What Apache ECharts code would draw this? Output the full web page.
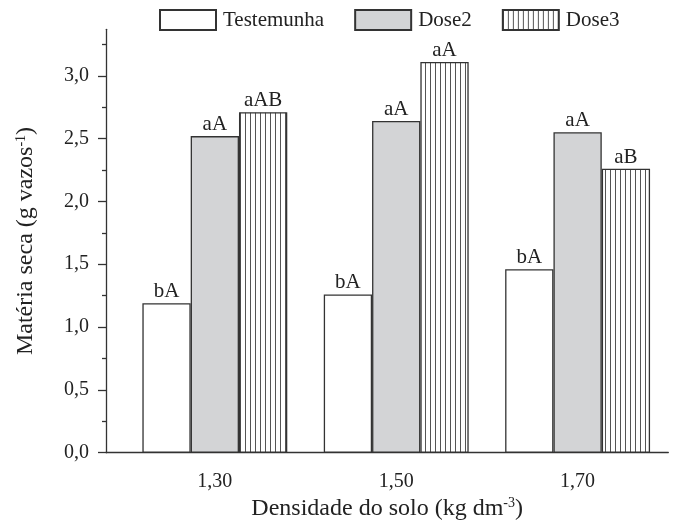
<!DOCTYPE html>
<html><head><meta charset="utf-8">
<script src="https://cdn.jsdelivr.net/npm/echarts@6/dist/echarts.min.js"></script>
<style>html,body{margin:0;padding:0;background:#fff}#c{width:675px;height:526px}</style>
</head><body><div id="c"></div>
<script>
// ---- data ----
const densities = [1.30, 1.50, 1.70];
const seriesNames = ['Testemunha', 'Dose2', 'Dose3'];
const testemunha = [1.19, 1.26, 1.46];
const dose2 = [2.52, 2.64, 2.55];
const dose3 = [2.71, 3.11, 2.26];
const lettersTestemunha = ['bA', 'bA', 'bA'];
const lettersDose2 = ['aA', 'aA', 'aA'];
const lettersDose3 = ['aAB', 'aA', 'aB'];
const xTickLabels = [1.30, 1.50, 1.70];
const yMajorTicks = [0, 0.5, 1.0, 1.5, 2.0, 2.5, 3.0];
const yMinorTicks = [0.25, 0.75, 1.25, 1.75, 2.25, 2.75, 3.25];

// ---- styles ----
const FONT = 'Liberation Serif';
const TXT = '#222';
const LINE = '#333';

const pc = document.createElement('canvas');
pc.width = 5; pc.height = 8;
const ctx = pc.getContext('2d');
ctx.fillStyle = '#ffffff'; ctx.fillRect(0, 0, 5, 8);
ctx.fillStyle = '#555555'; ctx.fillRect(0, 0, 1, 8);
const stripe = { image: pc, repeat: 'repeat' };

const fills = ['#ffffff', '#d3d4d6', stripe];
const values = [testemunha, dose2, dose3];
const letters = [lettersTestemunha, lettersDose2, lettersDose3];

const chart = echarts.init(document.getElementById('c'), null, { renderer: 'canvas' });

const series = seriesNames.map((name, si) => ({
  name: name,
  type: 'bar',
  xAxisIndex: 0,
  yAxisIndex: 0,
  barWidth: 48.3,
  barGap: '0%',
  data: densities.map((d, i) => [d, values[si][i]]),
  itemStyle: { color: fills[si], borderColor: LINE, borderWidth: 1.3 },
  label: {
    show: true, position: 'top', distance: 1,
    fontFamily: FONT, fontSize: 21, color: TXT,
    formatter: (p) => letters[si][p.dataIndex]
  },
  emphasis: { disabled: true },
  animation: false
}));

const supStyle = { fontFamily: FONT, fontSize: 14, color: TXT, verticalAlign: 'top', padding: [0, 0, 10, 0] };

chart.setOption({
  animation: false,
  backgroundColor: '#fff',
  textStyle: { fontFamily: FONT },
  legend: {
    left: 159, top: 9, padding: 0,
    itemWidth: 56, itemHeight: 20, itemGap: 30,
    icon: 'rect',
    selectedMode: false,
    data: seriesNames,
    textStyle: { fontFamily: FONT, fontSize: 21, color: TXT, padding: [0, 0, 0, 2] }
  },
  grid: { left: 106, right: 6.7, top: 29.3, bottom: 73.3, containLabel: false },
  xAxis: {
    type: 'value', min: 1.18, max: 1.80,
    axisLine: { show: true, lineStyle: { color: LINE, width: 1.3 } },
    axisTick: { show: false },
    splitLine: { show: false },
    axisLabel: {
      customValues: xTickLabels,
      margin: 19, fontFamily: FONT, fontSize: 20, color: TXT,
      formatter: (v) => v.toFixed(2).replace('.', ',')
    },
    name: 'Densidade do solo (kg dm{sup|-3})',
    nameLocation: 'middle', nameGap: 40,
    nameTextStyle: { fontFamily: FONT, fontSize: 24, color: TXT, rich: { sup: supStyle } }
  },
  yAxis: [{
    type: 'value', min: 0, max: 3.37, position: 'left',
    axisLine: { show: true, lineStyle: { color: LINE, width: 1.3 } },
    axisTick: { show: true, inside: false, length: 8, customValues: yMajorTicks, lineStyle: { color: LINE, width: 1.3 } },
    splitLine: { show: false },
    axisLabel: {
      customValues: yMajorTicks,
      margin: 17, fontFamily: FONT, fontSize: 20, color: TXT,
      formatter: (v) => v.toFixed(1).replace('.', ',')
    },
    name: 'Matéria seca (g vazos{sup|-1})',
    nameLocation: 'middle', nameGap: 68,
    nameTextStyle: { fontFamily: FONT, fontSize: 24, color: TXT, rich: { sup: supStyle } }
  }, {
    type: 'value', min: 0, max: 3.37, position: 'left',
    axisLine: { show: false },
    axisTick: { show: true, inside: false, length: 4, customValues: yMinorTicks, lineStyle: { color: LINE, width: 1.3 } },
    splitLine: { show: false },
    axisLabel: { show: false }
  }],
  series: series
});
</script>
</body></html>
